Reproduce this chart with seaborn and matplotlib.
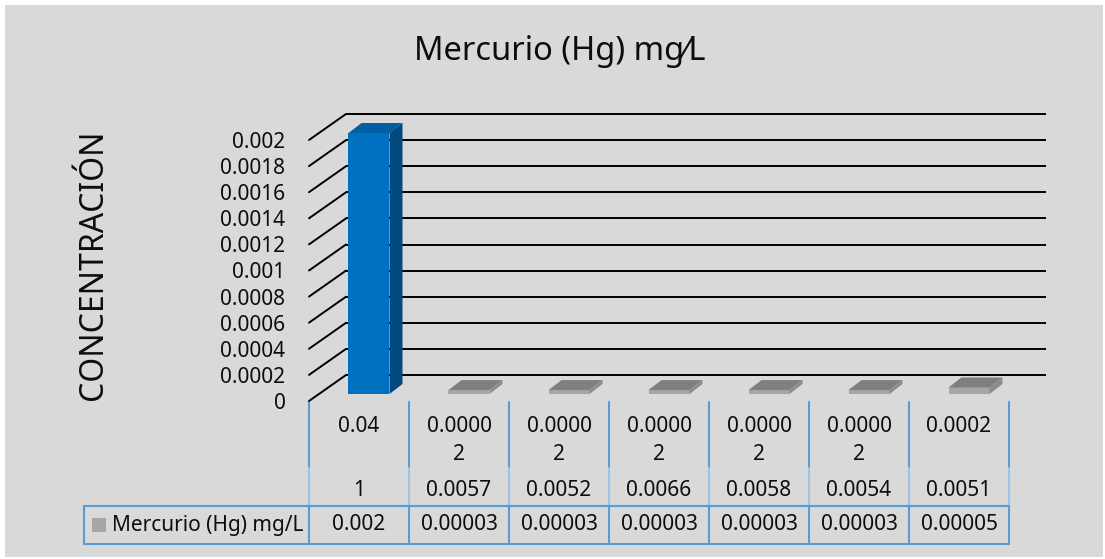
import numpy as np
import pandas as pd
import matplotlib
matplotlib.use("Agg")
import matplotlib.pyplot as plt
import matplotlib.transforms as mtrans
from matplotlib.patches import Polygon, Rectangle
from matplotlib.lines import Line2D
import seaborn as sns

# ---- data -------------------------------------------------------------
level1_labels = ["0.04", "0.00002", "0.00002", "0.00002", "0.00002", "0.00002", "0.0002"]
level2_labels = ["1", "0.0057", "0.0052", "0.0066", "0.0058", "0.0054", "0.0051"]
mercury_mg_l = [0.002, 0.00003, 0.00003, 0.00003, 0.00003, 0.00003, 0.00005]
series_name = "Mercurio (Hg) mg/L"
title = "Mercurio (Hg) mg\u2044L"
ylabel = "CONCENTRACIÓN"
y_ticks = [0, 0.0002, 0.0004, 0.0006, 0.0008, 0.001, 0.0012, 0.0014, 0.0016, 0.0018, 0.002]
y_ticklabels = ["0", "0.0002", "0.0004", "0.0006", "0.0008", "0.001",
                "0.0012", "0.0014", "0.0016", "0.0018", "0.002"]

categories = [f"{a} {b}" for a, b in zip(level1_labels, level2_labels)]
bar_colors = ["#0070C0"] + ["#A6A6A6"] * (len(categories) - 1)
df = pd.DataFrame({"categoria": categories, "valor": mercury_mg_l})

# ---- style ------------------------------------------------------------
sns.set_style("white")
plt.rcParams["font.family"] = ["Noto Sans", "DejaVu Sans"]
TXT = "#0d0d0d"

W, H, DPI = 1105, 559, 100
fig = plt.figure(figsize=(W / DPI, H / DPI), dpi=DPI, facecolor="white")


def fx(px):
    return px / W


def fy(py):
    return 1 - py / H


# chart area background
fig.add_artist(Rectangle((fx(5), fy(557)), fx(1098), (552) / H,
                         transform=fig.transFigure, facecolor="#D9D9D9",
                         edgecolor="none", zorder=-5))

# front plane of the plot (value axis)
left, right, y0, y1 = 309, 1009, 401, 140
ax = fig.add_axes([fx(left), fy(y0), fx(right - left), (y0 - y1) / H])
ax.set_facecolor("none")
ax.set_xlim(-0.5, len(categories) - 0.5)
ax.set_ylim(0, 0.002)
for s in ax.spines.values():
    s.set_visible(False)
ax.set_xticks([])
ax.set_yticks(y_ticks)
ax.set_yticklabels(y_ticklabels, fontsize=15, color=TXT)
ax.tick_params(axis="y", length=0, pad=17)

# back wall gridlines, shifted in depth
depth = mtrans.ScaledTranslation(37 / DPI, 26 / DPI, fig.dpi_scale_trans)
back = ax.transData + depth
xmin, xmax = ax.get_xlim()
for t in y_ticks:
    ax.plot([xmin, xmax], [t, t], color="black", lw=1.4, transform=back,
            clip_on=False, solid_capstyle="butt")
    # side wall lines running from the axis back to the wall
    p0 = ax.transData.transform((xmin, t))
    p1 = back.transform((xmin, t))
    fig.add_artist(Line2D([p0[0], p1[0]], [p0[1], p1[1]], color="black", lw=1.4,
                          transform=mtrans.IdentityTransform()))

# bars sit a little deeper than the front plane
ax_bar = fig.add_axes([fx(left + 10), fy(y0 - 7), fx(right - left), (y0 - y1) / H])
ax_bar.set_facecolor("none")
sns.barplot(data=df, x="categoria", y="valor", hue="categoria",
            palette=dict(zip(categories, bar_colors)), order=categories,
            hue_order=categories, width=0.41, saturation=1, legend=False,
            edgecolor="none", ax=ax_bar)
ax_bar.set_xlim(-0.5, len(categories) - 0.5)
ax_bar.set_ylim(0, 0.002)
ax_bar.axis("off")

shade = {"#0070C0": ("#005EA3", "#00487D"), "#A6A6A6": ("#7F7F7F", "#8C8C8C")}
ddx, ddy = 13, 10
fig.canvas.draw()
for patch, col in zip(ax_bar.patches, bar_colors):
    x0, w, h = patch.get_x(), patch.get_width(), patch.get_height()
    (ax0, ay0), (ax1, ay1) = ax_bar.transData.transform([(x0, 0), (x0 + w, h)])
    top_c, side_c = shade[col]
    top = Polygon([(ax0, ay1), (ax1, ay1), (ax1 + ddx, ay1 + ddy), (ax0 + ddx, ay1 + ddy)],
                  closed=True, facecolor=top_c, edgecolor="none",
                  transform=mtrans.IdentityTransform())
    side = Polygon([(ax1, ay0), (ax1 + ddx, ay0 + ddy), (ax1 + ddx, ay1 + ddy), (ax1, ay1)],
                   closed=True, facecolor=side_c, edgecolor="none",
                   transform=mtrans.IdentityTransform())
    fig.add_artist(top)
    fig.add_artist(side)

# ---- category labels and data table ----------------------------------
blend = mtrans.blended_transform_factory(ax.transData, fig.transFigure)
line_c, light_c = "#5B9BD5", "#9DC3E6"
fs = 15


def wrap(txt, n=6):
    return [txt[i:i + n] for i in range(0, len(txt), n)]


for i, (a, b, v) in enumerate(zip(level1_labels, level2_labels, mercury_mg_l)):
    for j, part in enumerate(wrap(a)):
        ax.text(i, fy(427 + 28 * j), part, transform=blend, ha="center",
                va="center", fontsize=fs, color=TXT)
    ax.text(i, fy(490), b, transform=blend, ha="center", va="center",
            fontsize=fs, color=TXT)
    ax.text(i, fy(525), np.format_float_positional(v), transform=blend,
            ha="center", va="center", fontsize=fs, color=TXT)

for k in range(len(categories) + 1):
    xb = k - 0.5
    ax.add_line(Line2D([xb, xb], [fy(402), fy(468)], transform=blend, color=line_c,
                       lw=1.5, clip_on=False))
    ax.add_line(Line2D([xb, xb], [fy(468), fy(506)], transform=blend, color=light_c,
                       lw=1.5, clip_on=False))
    ax.add_line(Line2D([xb, xb], [fy(506), fy(544)], transform=blend, color=line_c,
                       lw=1.5, clip_on=False))

x_right = ax.transData.transform((xmax, 0))[0] / W
for yy in (506, 544):
    fig.add_artist(Line2D([fx(84), x_right], [fy(yy), fy(yy)], color=line_c, lw=1.5,
                          transform=fig.transFigure))
fig.add_artist(Line2D([fx(84), fx(84)], [fy(506), fy(544)], color=line_c, lw=1.5,
                      transform=fig.transFigure))
fig.add_artist(Rectangle((fx(92), fy(532)), fx(14), 14 / H, transform=fig.transFigure,
                         facecolor="#A6A6A6", edgecolor="none"))
fig.text(fx(112), fy(525), series_name, ha="left", va="center", fontsize=fs,
         color=TXT)

# ---- titles -----------------------------------------------------------
fig.text(fx(560), fy(51), title, ha="center", va="center", fontsize=23.5, color=TXT)
fig.text(fx(93), fy(265), ylabel, ha="center", va="center", rotation=90,
         fontsize=23, color=TXT)

fig.savefig("out.png", dpi=DPI, facecolor="white")
